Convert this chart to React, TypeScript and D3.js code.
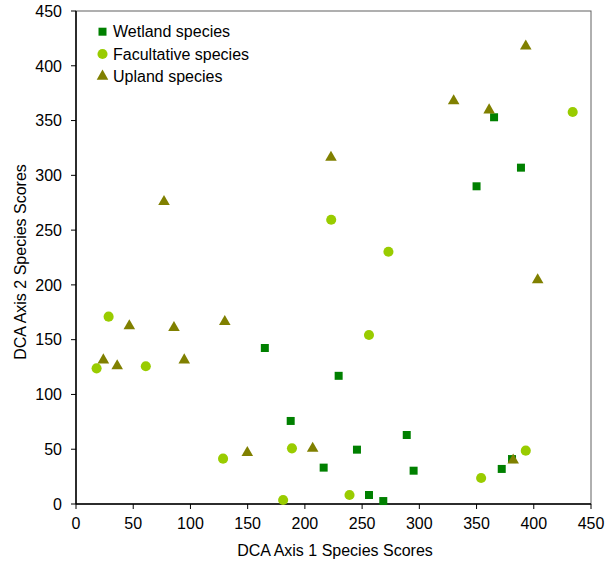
import React from "react";
import * as d3 from "d3";

const wetlandX = [165, 187.6, 229.5, 216.4, 245.5, 256, 268.5, 289, 295, 350, 365.3, 388.8, 372, 381];
const wetlandY = [142.4, 75.8, 117, 33.2, 49.6, 8.2, 2.7, 63, 30.4, 290, 353, 307, 32, 41];

const facultativeX = [28.5, 18, 61, 128.5, 188.7, 181, 434, 223, 273, 256, 239, 354, 393];
const facultativeY = [171, 123.8, 125.7, 41.4, 50.8, 3.6, 357.8, 259.5, 230.3, 154.3, 8.2, 23.7, 48.7];

const uplandX = [76.9, 23.9, 36, 46.6, 85.6, 94.6, 130, 149.7, 393, 330, 361, 222.8, 403.4, 206.8, 382];
const uplandY = [276, 131.4, 126, 162.5, 161, 131.4, 166.4, 46.8, 418, 368, 359.6, 316.4, 204.5, 50.8, 40];

const xTicks = [0, 50, 100, 150, 200, 250, 300, 350, 400, 450];
const yTicks = [0, 50, 100, 150, 200, 250, 300, 350, 400, 450];

const seriesNames = ["Wetland species", "Facultative species", "Upland species"];
const colors = ["#008000", "#99CC00", "#808000"];

export default function App() {
  const W = 613, H = 562;
  const left = 76, right = 591, top = 11, bottom = 504;
  const x = d3.scaleLinear().domain([0, 450]).range([left, right]);
  const y = d3.scaleLinear().domain([0, 450]).range([bottom, top]);
  const font = "Arial, 'Liberation Sans', sans-serif";

  const sq = d3.symbol().type(d3.symbolSquare).size(64)()!;
  const circ = d3.symbol().type(d3.symbolCircle).size(80)()!;
  const tri = d3.symbol().type(d3.symbolTriangle).size(58)()!;

  const series = [
    { xs: wetlandX, ys: wetlandY, path: sq },
    { xs: facultativeX, ys: facultativeY, path: circ },
    { xs: uplandX, ys: uplandY, path: tri },
  ];

  return (
    <svg width={W} height={H} style={{ position: "absolute", left: 0, top: 0, background: "#fff" }} fontFamily={font}>
      <rect x={0} y={0} width={W} height={H} fill="#fff" />
      <rect x={left} y={top} width={right - left} height={bottom - top} fill="none" stroke="#606060" strokeWidth={1} />
      <line x1={left} y1={top} x2={left} y2={bottom} stroke="#000" strokeWidth={1.5} />
      <line x1={left} y1={bottom} x2={right} y2={bottom} stroke="#000" strokeWidth={1.5} />
      {xTicks.map((t) => (
        <g key={"x" + t}>
          <line x1={x(t)} x2={x(t)} y1={bottom} y2={bottom + 5} stroke="#000" />
          <text x={x(t)} y={bottom + 25} textAnchor="middle" fontSize={16}>{t}</text>
        </g>
      ))}
      {yTicks.map((t) => (
        <g key={"y" + t}>
          <line x1={left - 5} x2={left} y1={y(t)} y2={y(t)} stroke="#000" />
          <text x={62} y={y(t) + 5.8} textAnchor="end" fontSize={16}>{t}</text>
        </g>
      ))}
      <text x={335} y={556} textAnchor="middle" fontSize={16}>DCA Axis 1 Species Scores</text>
      <text transform={`translate(26,262) rotate(-90)`} textAnchor="middle" fontSize={16}>DCA Axis 2 Species Scores</text>
      {series.map((s, i) => (
        <g key={i} fill={colors[i]}>
          {s.xs.map((v, j) => (
            <path key={j} d={s.path} transform={`translate(${x(v)},${y(s.ys[j])})`} />
          ))}
        </g>
      ))}
      {seriesNames.map((n, i) => (
        <g key={n} transform={`translate(0,${31.7 + i * 22.3})`}>
          <path d={series[i].path} transform="translate(102.5,0)" fill={colors[i]} />
          <text x={113} y={5.5} fontSize={16}>{n}</text>
        </g>
      ))}
    </svg>
  );
}
